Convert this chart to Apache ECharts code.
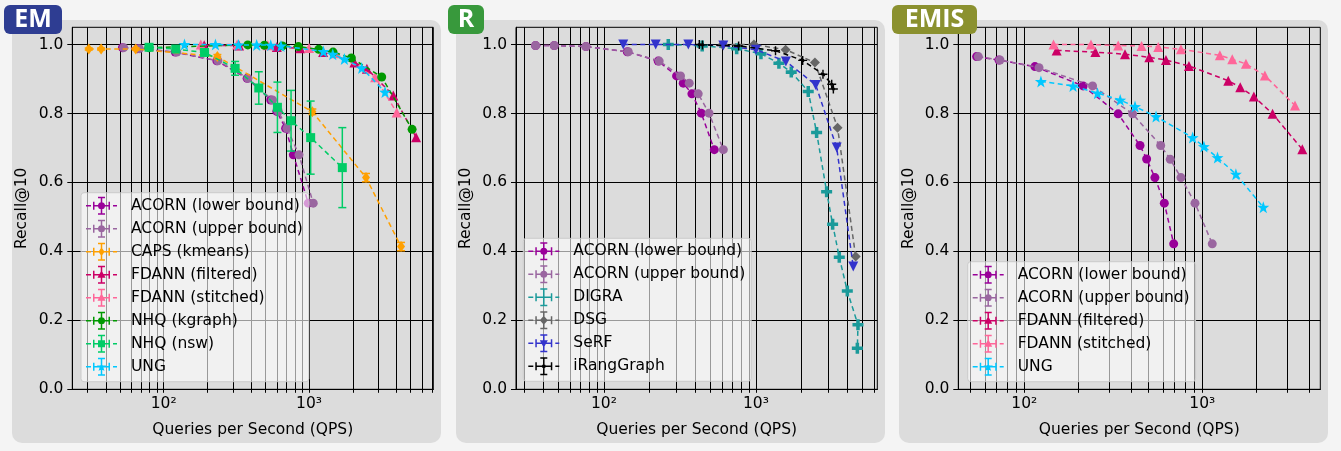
<!DOCTYPE html>
<html><head><meta charset="utf-8">
<script src="https://cdn.jsdelivr.net/npm/echarts@6/dist/echarts.min.js"></script>
<style>html,body{margin:0;padding:0;background:#f4f4f4;}#c{width:1341px;height:451px;}</style>
</head><body><div id="c"></div>
<script>
// ---------- tick labels / grid positions ----------
const yTicks = [0, 0.2, 0.4, 0.6, 0.8, 1.0];
const xMajor = [100, 1000];
const xGridEM = [30,40,50,60,70,80,90,100,200,300,400,500,600,700,800,900,1000,2000,3000,4000,5000,6000,7000];
const xGridR = [30,40,50,60,70,80,90,100,200,300,400,500,600,700,800,900,1000,2000,3000,4000,5000,6000];
const xGridEMIS = [50,60,70,80,90,100,200,300,400,500,600,700,800,900,1000,2000,3000,4000];
const panelTitles = ['EM', 'R', 'EMIS'];
const xName = 'Queries per Second (QPS)';
const yName = 'Recall@10';

// ---------- EM panel ----------
const emAcornLower = [[52,0.991],[66,0.988],[120,0.978],[232,0.953],[375,0.902],[545,0.839],[600,0.806],[690,0.757],[780,0.680],[988,0.540]];
const emAcornUpper = [[53,0.991],[68,0.988],[123,0.978],[236,0.953],[380,0.902],[560,0.839],[615,0.806],[705,0.757],[853,0.680],[1069,0.540]];
const emCaps = [[30.5,0.987],[37.1,0.987],[64.2,0.987],[234,0.965],[1054,0.805],[2465,0.614],[4295,0.414]];
const emCapsErr = [0.003,0.003,0.003,0.006,0.008,0.012,0.012];
const emFdannFiltered = [[190,0.998],[330,0.997],[600,0.993],[870,0.989],[1250,0.978],[2050,0.948],[2500,0.930],[3800,0.852],[5450,0.731]];
const emFdannStitched = [[180,1.0],[320,1.0],[520,0.998],[1000,0.990],[1500,0.975],[2850,0.905],[4010,0.803]];
const emNhqKgraph = [[79,0.991],[379,0.999],[493,0.998],[656,0.996],[845,0.994],[1166,0.986],[1463,0.978],[1955,0.961],[3162,0.906],[5117,0.754]];
const emNhqNsw = [[79.3,0.992],[121,0.987],[191,0.977],[310,0.931],[451,0.874],[606,0.818],[752,0.779],[1026,0.730],[1694,0.643]];
const emNhqNswErr = [0.003,0.003,0.004,0.020,0.047,0.073,0.088,0.106,0.116];
const emUng = [[139,1.0],[227,1.0],[327,0.999],[436,0.999],[545,0.998],[641,0.996],[1256,0.980],[1456,0.972],[1750,0.958],[2303,0.932],[3334,0.862]];

// ---------- R panel ----------
const rAcornLower = [[35.5,0.997],[47.1,0.997],[76.2,0.994],[142.5,0.979],[227.5,0.952],[300.6,0.909],[332.5,0.888],[379,0.857],[437,0.801],[532,0.695]];
const rAcornUpper = [[35.5,0.997],[47.1,0.997],[76.2,0.994],[144.6,0.979],[231,0.952],[319,0.909],[364,0.888],[417,0.857],[491,0.801],[610,0.695]];
const rDigra = [[265,1.0],[443,0.996],[747,0.988],[1079,0.973],[1416,0.946],[1707,0.920],[2208,0.864],[2506,0.745],[2917,0.573],[3194,0.479],[3533,0.383],[3990,0.285],[4690,0.187],[4645,0.119]];
const rDsg = [[604,1.0],[970,1.0],[1567,0.985],[2443,0.948],[3443,0.759],[4529,0.385]];
const rSerf = [[134,1.0],[219,1.0],[359,1.0],[610,0.997],[1000,0.985],[1574,0.951],[2472,0.883],[3397,0.701],[4365,0.356]];
const rIrang = [[424,1.0],[445,0.999],[769,0.996],[1345,0.982],[2030,0.954],[2760,0.914],[3150,0.885],[3230,0.871]];

// ---------- EMIS panel ----------
const emisAcornLower = [[54,0.965],[72.1,0.955],[114.8,0.936],[214,0.880],[337,0.799],[447,0.707],[487,0.668],[542,0.614],[612,0.540],[691,0.422]];
const emisAcornUpper = [[55.2,0.965],[73,0.955],[121,0.933],[242,0.880],[406,0.799],[584,0.707],[661,0.667],[759,0.614],[910,0.540],[1138,0.422]];
const emisFdannFiltered = [[152,0.983],[251,0.978],[368,0.972],[504,0.963],[625,0.955],[842,0.938],[1400,0.895],[1635,0.876],[1950,0.849],[2483,0.799],[3648,0.696]];
const emisFdannStitched = [[146,1.0],[237,1.0],[337,0.997],[456,0.996],[566,0.993],[759,0.986],[1256,0.969],[1474,0.957],[1759,0.944],[2248,0.910],[3319,0.823]];
const emisUng = [[124,0.893],[188,0.880],[258,0.859],[346,0.839],[419,0.820],[550,0.791],[883,0.730],[1021,0.704],[1218,0.672],[1545,0.624],[2202,0.528]];

// ---------- styles ----------
const FONT = 'DejaVu Sans';
const FS = 15.5;
function starPath(cx, cy, ro, ri) {
  let d = '';
  for (let i = 0; i < 10; i++) {
    const a = (-90 + i * 36) * Math.PI / 180, r = i % 2 ? ri : ro;
    d += (i ? 'L' : 'M') + (cx + r * Math.cos(a)).toFixed(2) + ',' + (cy + r * Math.sin(a)).toFixed(2);
  }
  return d + 'Z';
}
const MARK = {
  circle: {sym: 'circle', size: 9, icon: 'M12,9A3.5,3.5 0 1 1 19,9A3.5,3.5 0 1 1 12,9Z'},
  dot: {sym: 'path://M-0.8,-5H0.8V-0.8H5V0.8H0.8V5H-0.8V0.8H-5V-0.8H-0.8Z M-2,0A2,2 0 1 1 2,0A2,2 0 1 1 -2,0Z', size: 9, icon: 'M13.5,9A2,2 0 1 1 17.5,9A2,2 0 1 1 13.5,9Z'},
  tri: {sym: 'triangle', size: 10, icon: 'M15.5,4.5L19.5,12L11.5,12Z'},
  trid: {sym: 'triangle', size: 10, rot: 180, icon: 'M11.5,6L19.5,6L15.5,13.5Z'},
  diam: {sym: 'diamond', size: 10, icon: 'M15.5,4.5L19.5,9L15.5,13.5L11.5,9Z'},
  thind: {sym: 'diamond', size: [8, 11], icon: 'M15.5,4.5L18.5,9L15.5,13.5L12.5,9Z'},
  square: {sym: 'rect', size: 9, icon: 'M12,5.5h7v7h-7Z'},
  star: {sym: 'path://' + starPath(0, 0, 10, 4), size: 12, icon: starPath(15.5, 9.3, 5, 2)},
  plus: {sym: 'path://M-1.6,-5H1.6V-1.6H5V1.6H1.6V5H-1.6V1.6H-5V-1.6H-1.6Z', size: 11, icon: ''}
};
const STY = {
  'ACORN (lower bound)': {c: '#990099', m: 'circle'},
  'ACORN (upper bound)': {c: '#9a66a0', m: 'circle'},
  'CAPS (kmeans)': {c: '#ffa000', m: 'thind'},
  'FDANN (filtered)': {c: '#cc0066', m: 'tri'},
  'FDANN (stitched)': {c: '#ff6699', m: 'tri'},
  'NHQ (kgraph)': {c: '#009900', m: 'circle'},
  'NHQ (nsw)': {c: '#00cc66', m: 'square'},
  'UNG': {c: '#00c8ff', m: 'star'},
  'DIGRA': {c: '#1a9a9a', m: 'plus'},
  'DSG': {c: '#666666', m: 'diam'},
  'SeRF': {c: '#3333cc', m: 'trid'},
  'iRangGraph': {c: '#000000', m: 'dot'}
};
function rect(x, y, w, h) { return 'M' + x + ',' + y + 'h' + w + 'v' + h + 'h' + (-w) + 'Z'; }
function legendIcon(m) {
  return 'path://' + rect(0, 8.25, 5, 1.5) + rect(7, 8.25, 17, 1.5) + rect(7, 5, 1.5, 8) + rect(22.5, 5, 1.5, 8) +
    rect(14.75, 0, 1.5, 18) + rect(12, 0, 7, 1.5) + rect(12, 16.5, 7, 1.5) + rect(27, 8.25, 4, 1.5) + MARK[m].icon;
}

const panels = [
  {grid: {left: 72.3, right: 1341 - 433.3}, xMin: 23.5, xMax: 7160, xGrid: xGridEM, nameGap: 42,
   legend: {left: 81, top: 192.7},
   series: [['ACORN (lower bound)', emAcornLower], ['ACORN (upper bound)', emAcornUpper], ['CAPS (kmeans)', emCaps, emCapsErr],
            ['FDANN (filtered)', emFdannFiltered], ['FDANN (stitched)', emFdannStitched], ['NHQ (kgraph)', emNhqKgraph],
            ['NHQ (nsw)', emNhqNsw, emNhqNswErr], ['UNG', emUng]]},
  {grid: {left: 516, right: 1341 - 877.3}, xMin: 26.4, xMax: 6284, xGrid: xGridR, nameGap: 42,
   legend: {left: 523.3, top: 238.3},
   series: [['ACORN (lower bound)', rAcornLower], ['ACORN (upper bound)', rAcornUpper], ['DIGRA', rDigra],
            ['DSG', rDsg], ['SeRF', rSerf], ['iRangGraph', rIrang]]},
  {grid: {left: 958.3, right: 1341 - 1320.3}, xMin: 42.6, xMax: 4604, xGrid: xGridEMIS, nameGap: 41,
   legend: {left: 967.7, top: 261.7},
   series: [['ACORN (lower bound)', emisAcornLower], ['ACORN (upper bound)', emisAcornUpper], ['FDANN (filtered)', emisFdannFiltered],
            ['FDANN (stitched)', emisFdannStitched], ['UNG', emisUng]]}
];

const SUP = {1: '¹', 2: '²', 3: '³', 4: '⁴'};
const grids = [], xAxes = [], yAxes = [], series = [], legends = [];
const txt = {fontFamily: FONT, fontSize: FS, color: '#000'};
panels.forEach((p, gi) => {
  grids.push({left: p.grid.left, right: p.grid.right, top: 27.3, bottom: 451 - 389.3, show: true,
    backgroundColor: '#dcdcdc', borderColor: '#000', borderWidth: 1, containLabel: false, outerBoundsMode: 'none'});
  xAxes.push({type: 'log', logBase: 10, gridIndex: gi, min: p.xMin, max: p.xMax,
    name: xName, nameLocation: 'middle', nameGap: 33, nameTextStyle: txt,
    axisLine: {show: true, onZero: false, lineStyle: {color: '#000', width: 1}},
    axisTick: {show: true, inside: false, length: 3.5, customValues: p.xGrid, lineStyle: {color: '#000', width: 1}},
    axisLabel: {show: true, customValues: xMajor, margin: 7, ...txt,
      formatter: v => '10' + SUP[Math.round(Math.log10(v))]},
    splitLine: {show: true, lineStyle: {color: '#000', width: 1}},
    minorTick: {show: false}, minorSplitLine: {show: false}});
  yAxes.push({type: 'value', gridIndex: gi, min: 0, max: 1.05,
    name: yName, nameLocation: 'middle', nameGap: p.nameGap, nameRotate: 90, nameTextStyle: txt,
    axisLine: {show: true, onZero: false, lineStyle: {color: '#000', width: 1}},
    axisTick: {show: true, inside: false, length: 5, customValues: yTicks, lineStyle: {color: '#000', width: 1}},
    axisLabel: {show: true, customValues: yTicks, margin: 9, ...txt, formatter: v => v.toFixed(1)},
    splitLine: {show: true, lineStyle: {color: '#000', width: 1}}});
  const names = [];
  p.series.forEach(([name, data, err], si) => {
    const s = STY[name], mk = MARK[s.m];
    names.push({name, icon: legendIcon(s.m), itemStyle: {color: s.c}});
    if (err) {
      series.push({type: 'custom', name: name + ' err', xAxisIndex: gi, yAxisIndex: gi, z: 2 + si * 2,
        dimensions: ['x', 'y', 'e'], encode: {x: 0, y: 1}, silent: true, animation: false,
        data: data.map((d, i) => [d[0], d[1], err[i]]),
        renderItem: (params, api) => {
          const x = api.value(0), y = api.value(1), e = api.value(2);
          const t = api.coord([x, y + e]), b = api.coord([x, y - e]);
          const st = {stroke: s.c, lineWidth: 1.5};
          return {type: 'group', children: [
            {type: 'line', shape: {x1: t[0], y1: t[1], x2: b[0], y2: b[1]}, style: st},
            {type: 'line', shape: {x1: t[0] - 4, y1: t[1], x2: t[0] + 4, y2: t[1]}, style: st},
            {type: 'line', shape: {x1: b[0] - 4, y1: b[1], x2: b[0] + 4, y2: b[1]}, style: st}]};
        }});
    }
    series.push({type: 'line', name, xAxisIndex: gi, yAxisIndex: gi, data, z: 3 + si * 2,
      symbol: mk.sym, symbolSize: mk.size, symbolRotate: mk.rot || 0, showSymbol: true, showAllSymbol: true,
      animation: false, silent: true, clip: true,
      lineStyle: {color: s.c, width: 1.5, type: [5, 3.5]},
      itemStyle: {color: s.c, borderWidth: 0, opacity: 1}, emphasis: {disabled: true}});
  });
  legends.push({show: true, orient: 'vertical', left: p.legend.left, top: p.legend.top,
    padding: [4, 6, 6, 5], itemWidth: 31, itemHeight: 18, itemGap: 5, selectedMode: false,
    backgroundColor: 'rgba(255,255,255,0.6)', borderColor: 'rgba(200,200,200,0.9)', borderWidth: 1, borderRadius: 3,
    textStyle: {fontFamily: FONT, fontSize: FS, color: '#000', padding: [0, 0, 0, 9]},
    data: names, z: 20});
});

const badgeColors = ['#2e3d92', '#38993c', '#8b912f'];
const badgeBoxes = [[4, 5, 58, 29], [448, 5, 36, 29], [892, 5, 85, 29]];
const panelBoxes = [[12, 20, 429, 423], [456, 20, 429, 423], [899, 20, 429, 423]];
const graphic = [];
panelBoxes.forEach(b => graphic.push({type: 'rect', z: -100, silent: true,
  shape: {x: b[0], y: b[1], width: b[2], height: b[3], r: 10}, style: {fill: '#dcdcdc'}}));
badgeBoxes.forEach((b, i) => {
  graphic.push({type: 'rect', z: 100, silent: true, shape: {x: b[0], y: b[1], width: b[2], height: b[3], r: 6},
    style: {fill: badgeColors[i]}});
  graphic.push({type: 'text', z: 101, silent: true, x: b[0] + b[2] / 2, y: b[1] + b[3] / 2 + 0.5,
    style: {text: panelTitles[i], fill: '#fff', font: 'bold 25px "Open Sans"', textAlign: 'center', textVerticalAlign: 'middle'}});
});

const chart = echarts.init(document.getElementById('c'), null, {renderer: 'canvas'});
chart.setOption({
  backgroundColor: '#f4f4f4', animation: false,
  grid: grids, xAxis: xAxes, yAxis: yAxes, series, legend: legends, graphic
});
</script></body></html>
